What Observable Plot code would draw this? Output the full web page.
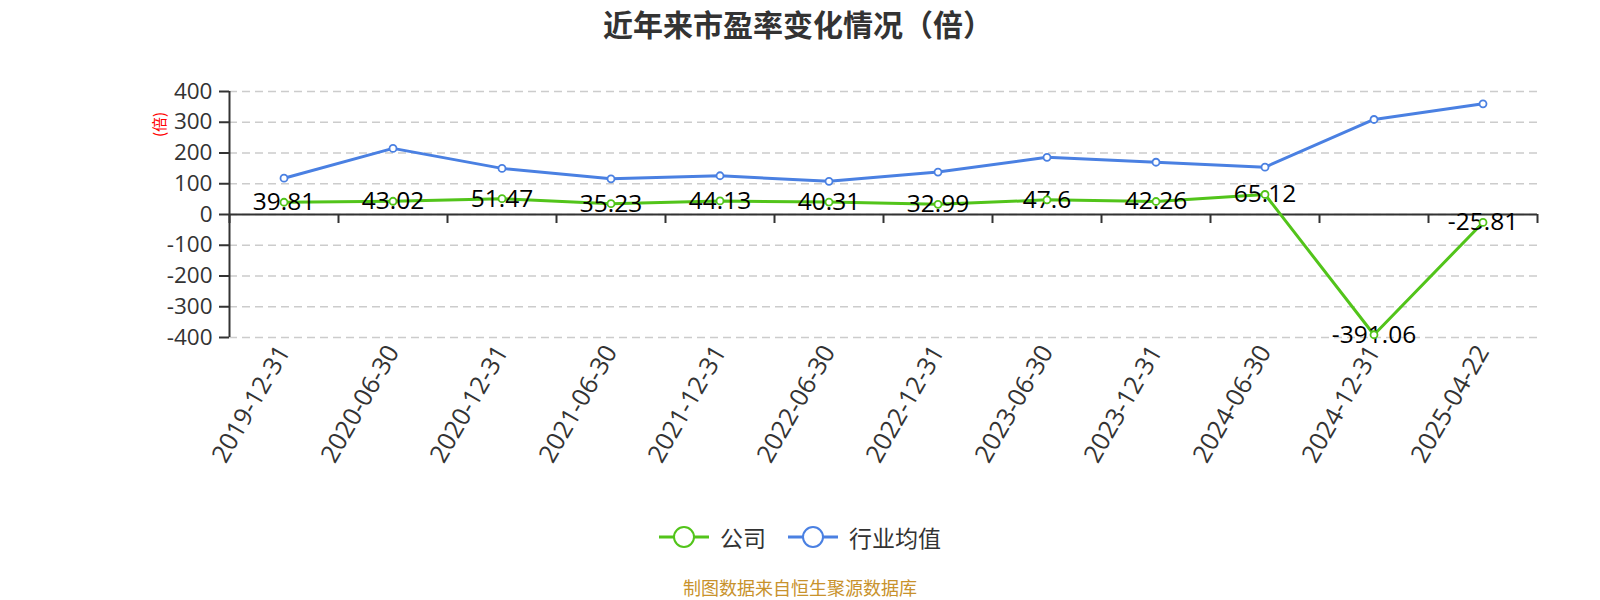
<!DOCTYPE html>
<html><head><meta charset="utf-8">
<script src="https://cdn.jsdelivr.net/npm/d3@7"></script>
<script src="https://cdn.jsdelivr.net/npm/@observablehq/plot@0.6"></script>
<style>
body{margin:0;background:#fff;font-family:"Noto Sans CJK SC","Noto Sans",sans-serif;}
#wrap{position:relative;width:1600px;height:600px;overflow:hidden;}
#title{position:absolute;left:0;top:0;width:1596px;height:46px;line-height:46px;text-align:center;font-size:30px;font-weight:bold;color:#333;}
#chart{position:absolute;left:0;top:50px;}
#legend{position:absolute;left:0;top:520px;width:1600px;height:34px;display:flex;justify-content:center;align-items:center;font-size:23px;color:#333;}
#legend .item{display:flex;align-items:center;}
#legend svg{margin-right:11px;}
#caption{position:absolute;left:0;top:575px;width:1600px;height:24px;line-height:24px;text-align:center;font-size:18px;color:#c8922c;}
</style></head>
<body><div id="wrap">
<div id="title">近年来市盈率变化情况（倍）</div>
<div id="chart"></div>
<div id="legend"></div>
<div id="caption">制图数据来自恒生聚源数据库</div>
</div>
<script>
const dates = ["2019-12-31","2020-06-30","2020-12-31","2021-06-30","2021-12-31","2022-06-30","2022-12-31","2023-06-30","2023-12-31","2024-06-30","2024-12-31","2025-04-22"];
const company = [39.81,43.02,51.47,35.23,44.13,40.31,32.99,47.6,42.26,65.12,-391.06,-25.81];
const industry = [118,215,150,116,126,108,138,186,170,154,309,360];
const yTicks = [-400,-300,-200,-100,0,100,200,300,400];
const seriesNames = ["公司","行业均值"];
const colors = ["#52c41a","#4a80e2"];

const idx = dates.map((d,i)=>i);
const boundaries = d3.range(dates.length+1).map(i=>i-0.5);
const comp = dates.map((d,i)=>({i, date:d, v:company[i]}));
const ind = dates.map((d,i)=>({i, date:d, v:industry[i]}));
const font = '"Noto Sans CJK SC","Noto Sans",sans-serif';
const numFont = '"Open Sans","Noto Sans",sans-serif';

const chart = Plot.plot({
  width:1600, height:450, marginLeft:229, marginRight:63, marginTop:41, marginBottom:163,
  x:{type:"linear", domain:[-0.5, dates.length-0.5]},
  y:{domain:[-400,400]},
  style:{fontFamily:font, color:"#333", background:"#fff", overflow:"visible"},
  marks:[
    Plot.gridY(yTicks, {stroke:"#ccc", strokeOpacity:1, strokeDasharray:"8,5", strokeWidth:1.5}),
    Plot.ruleY([0], {stroke:"#333", strokeWidth:2}),
    Plot.ruleX(boundaries, {x:d=>d, y1:0, y2:0, insetBottom:-9, stroke:"#333", strokeWidth:2}),
    Plot.ruleX([boundaries[0]], {stroke:"#333", strokeWidth:2}),
    Plot.axisY({ticks:yTicks, tickSize:10, tickPadding:7, fontSize:22.5, fontFamily:numFont, label:null, tickFormat:d=>String(d), stroke:"#333", strokeWidth:2}),
    Plot.axisX({ticks:idx, tickFormat:i=>dates[i], tickRotate:-60, tickSize:0, tickPadding:10, fontSize:25, fontFamily:numFont, label:null}),
    Plot.line(ind, {x:"i", y:"v", stroke:colors[1], strokeWidth:3}),
    Plot.line(comp, {x:"i", y:"v", stroke:colors[0], strokeWidth:3}),
    Plot.text(comp, {x:"i", y:"v", text:d=>String(d.v), fill:"#000", fontSize:24.5, fontFamily:numFont}),
    Plot.dot(ind, {x:"i", y:"v", r:3.5, fill:"#fff", stroke:colors[1], strokeWidth:1.8}),
    Plot.dot(comp, {x:"i", y:"v", r:3.5, fill:"#fff", stroke:colors[0], strokeWidth:1.8}),
    Plot.text(["(倍)"], {frameAnchor:"top-left", dx:-69, dy:33, rotate:-90, textAnchor:"middle", lineAnchor:"middle", fill:"red", fontSize:15})
  ]
});
document.getElementById("chart").appendChild(chart);

const legend = d3.select("#legend");
seriesNames.forEach((name,k)=>{
  const it = legend.append("div").attr("class","item").style("margin-left", k? "22px":"0");
  const s = it.append("svg").attr("width",50).attr("height",26);
  s.append("line").attr("x1",0).attr("x2",50).attr("y1",13).attr("y2",13).attr("stroke",colors[k]).attr("stroke-width",3);
  s.append("circle").attr("cx",25).attr("cy",13).attr("r",10).attr("fill","#fff").attr("stroke",colors[k]).attr("stroke-width",2);
  it.append("span").text(name);
});
</script>
</body></html>
